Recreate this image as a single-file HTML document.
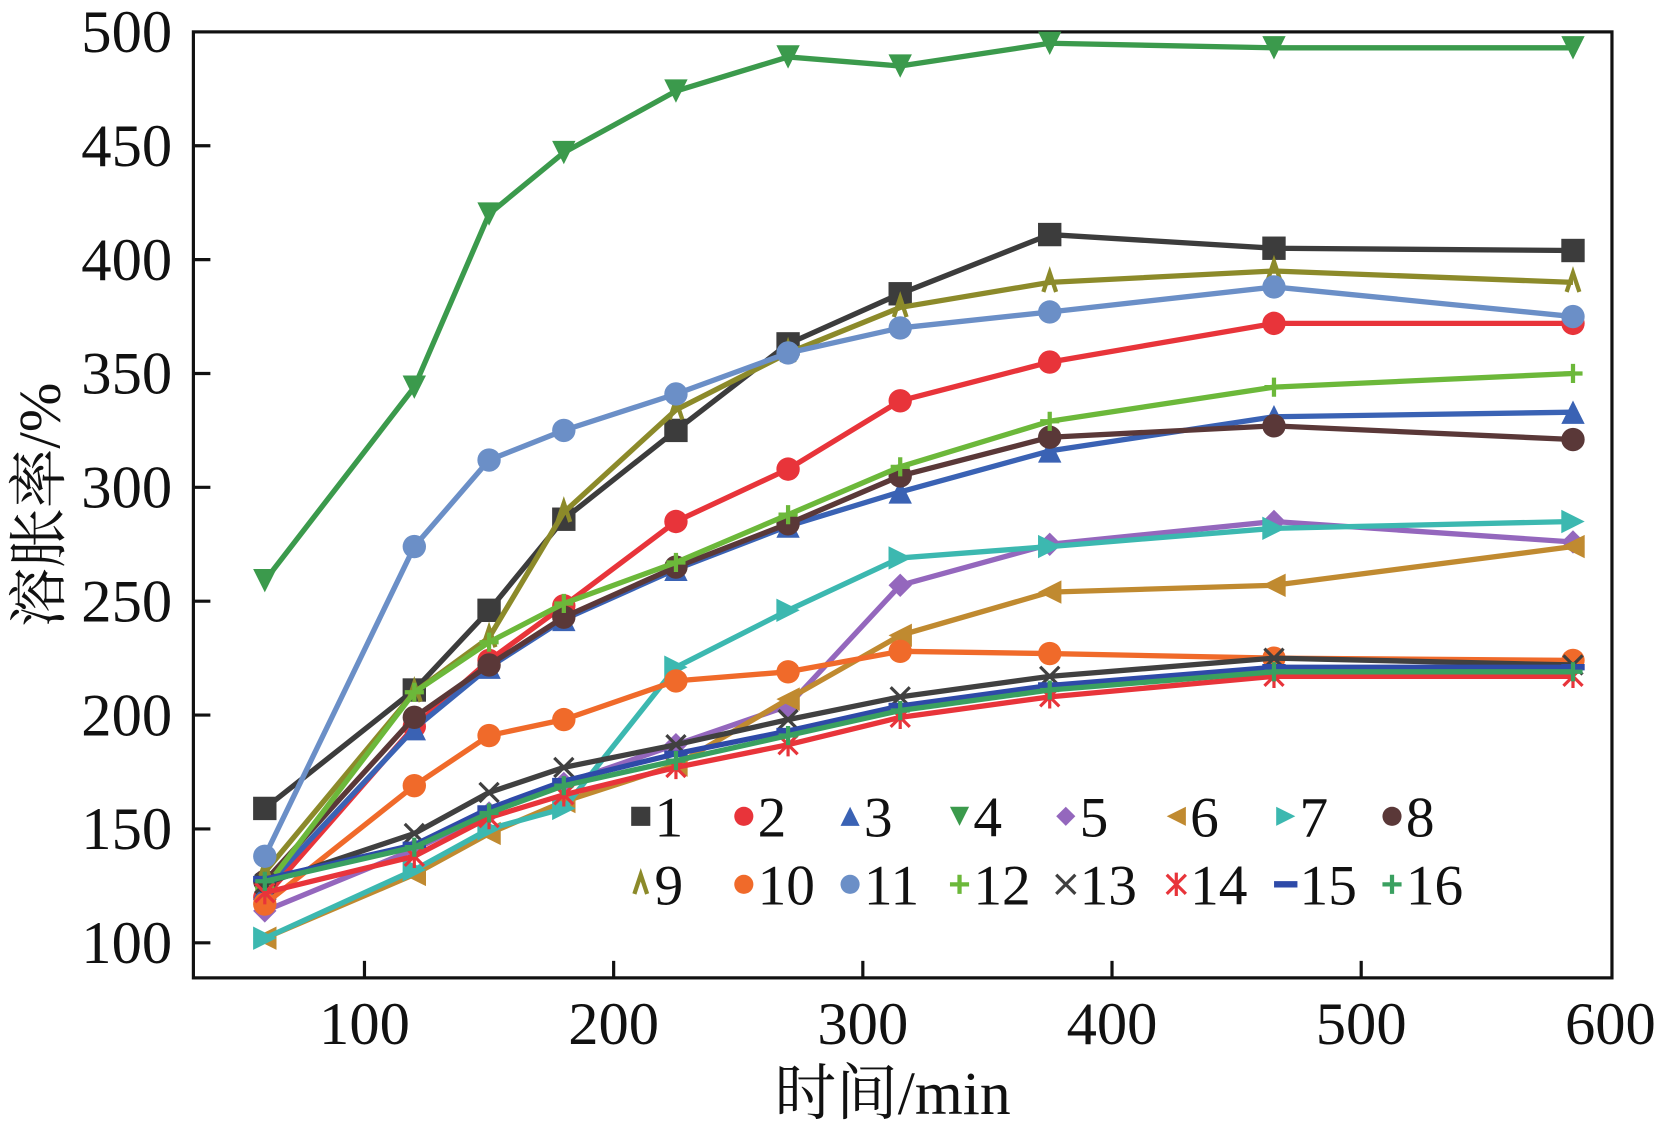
<!DOCTYPE html>
<html><head><meta charset="utf-8"><style>
html,body{margin:0;padding:0;background:#fff;width:1664px;height:1133px;overflow:hidden}
svg{display:block}
</style></head><body>
<svg width="1664" height="1133" xmlns="http://www.w3.org/2000/svg"><g id="chart" transform="scale(1.0626,1.0629)"></g></svg>
<script>
const xValues=[60,120,150,180,225,270,315,375,465,585];
const seriesNames=["1","2","3","4","5","6","7","8","9","10","11","12","13","14","15","16"];
const s1=[159,211,246,286,325,363,385,411,405,404];
const s2=[120,195,224,248,285,308,338,355,372,372];
const s3=[124,194,221,242,264,283,298,316,331,333];
const s4=[259,344,420,447,474,489,485,495,493,493];
const s5=[114,141,157,170,187,204,257,275,285,276];
const s6=[102,130,148,162,178,207,235,254,257,274];
const s7=[102,132,150,159,221,246,269,274,282,285];
const s8=[127,199,222,243,265,284,305,322,327,321];
const s9=[131,210,234,289,334,359,379,390,395,390];
const s10=[117,169,191,198,215,219,228,227,225,224];
const s11=[138,274,312,325,341,359,370,377,388,375];
const s12=[124,210,232,249,267,288,309,329,344,350];
const s13=[126,148,166,177,187,198,208,217,225,222];
const s14=[122,138,155,165,177,187,199,208,217,217];
const s15=[128,143,159,171,183,193,204,213,221,221];
const s16=[127,142,157,169,180,191,202,211,219,219];
const allSeries=[s1,s2,s3,s4,s5,s6,s7,s8,s9,s10,s11,s12,s13,s14,s15,s16];
const xTicks=[100,200,300,400,500,600];
const yTicks=[100,150,200,250,300,350,400,450,500];
const colors=["#3c3c3c","#e8343a","#3a62b4","#3b9a4c","#9467bd","#c08a30","#3cb8b0","#5a3838","#8c8a2a","#f06a2a","#6b8fc7","#6cb83a","#404040","#e8343a","#2e4aa8","#3aa060"];
const markers=["sq","ci","tu","td","di","tl","tr","ci","ca","ci","ci","pl","x","as","da","pl"];

const L=182,R=1517,T=30,B=920;
const X=v=>343+(v-100)*2.345;
const Y=v=>887-(v-100)*2.1425;
const NS="http://www.w3.org/2000/svg";
const svg=document.getElementById('chart');
function mk(tag,attrs,parent){const e=document.createElementNS(NS,tag);for(const k in attrs)e.setAttribute(k,attrs[k]);(parent||svg).appendChild(e);return e;}

function marker(type,x,y,c,g,s){
  s=s||11;let e;
  if(type==="sq")e=mk('rect',{x:x-s,y:y-s,width:2*s,height:2*s,fill:c},g);
  else if(type==="ci")e=mk('circle',{cx:x,cy:y,r:s,fill:c},g);
  else if(type==="tu")e=mk('polygon',{points:`${x},${y-s} ${x-s},${y+s} ${x+s},${y+s}`,fill:c},g);
  else if(type==="td")e=mk('polygon',{points:`${x-s},${y-s} ${x+s},${y-s} ${x},${y+s}`,fill:c},g);
  else if(type==="di")e=mk('polygon',{points:`${x},${y-s} ${x+s},${y} ${x},${y+s} ${x-s},${y}`,fill:c},g);
  else if(type==="tl")e=mk('polygon',{points:`${x-s},${y} ${x+s},${y-s} ${x+s},${y+s}`,fill:c},g);
  else if(type==="tr")e=mk('polygon',{points:`${x+s},${y} ${x-s},${y-s} ${x-s},${y+s}`,fill:c},g);
  else if(type==="ca")e=mk('polyline',{points:`${x-6},${y+9} ${x},${y-9} ${x+6},${y+9}`,fill:"none",stroke:c,"stroke-width":4},g);
  else if(type==="pl")e=mk('path',{d:`M${x-9} ${y}H${x+9}M${x} ${y-9}V${y+9}`,stroke:c,"stroke-width":4},g);
  else if(type==="x")e=mk('path',{d:`M${x-9} ${y-9}L${x+9} ${y+9}M${x+9} ${y-9}L${x-9} ${y+9}`,stroke:c,"stroke-width":3},g);
  else if(type==="as")e=mk('path',{d:`M${x-9} ${y-9}L${x+9} ${y+9}M${x+9} ${y-9}L${x-9} ${y+9}M${x} ${y-11}V${y+11}`,stroke:c,"stroke-width":3},g);
  else if(type==="da")e=mk('path',{d:`M${x-11} ${y}H${x+11}`,stroke:c,"stroke-width":6},g);
  return e;
}

const frame=mk('rect',{x:L,y:T,width:R-L,height:B-T,fill:"none",stroke:"#111","stroke-width":3});



const yAxis=mk('g',{});


yTicks.forEach(v=>{
  const yy=Y(v);
  if(v<500)mk('line',{x1:L,x2:L+16,y1:yy,y2:yy,stroke:"#111","stroke-width":3},yAxis);
  const t=mk('text',{x:162,y:yy+19,"text-anchor":"end","font-family":"Liberation Serif, serif","font-size":57,fill:"#111"},yAxis);
  t.textContent=v;
  
  
});
const xAxis=mk('g',{});


xTicks.forEach(v=>{
  const xx=X(v);
  if(v<600)mk('line',{x1:xx,x2:xx,y1:B,y2:B-16,stroke:"#111","stroke-width":3},xAxis);
  const t=mk('text',{x:xx,y:982,"text-anchor":"middle","font-family":"Liberation Serif, serif","font-size":57,fill:"#111"},xAxis);
  t.textContent=v;
  
  
});
const xt=mk('text',{x:840,y:1048,"text-anchor":"middle","font-family":"Liberation Serif, Noto Serif CJK SC, serif","font-size":58,fill:"#111"});
xt.textContent="时间/min";


const yt=mk('text',{x:0,y:0,transform:"translate(56,475) rotate(-90)","text-anchor":"middle","font-family":"Liberation Serif, Noto Serif CJK SC, serif","font-size":56,fill:"#111"});
yt.textContent="溶胀率/%";



allSeries.forEach((d,i)=>{
  const g=mk('g',{});
  
  
  mk('polyline',{points:d.map((v,j)=>X(xValues[j])+","+Y(v)).join(" "),fill:"none",stroke:colors[i],"stroke-width":5,"stroke-linejoin":"round"},g);
  d.forEach((v,j)=>{
    const m=marker(markers[i],X(xValues[j]),Y(v),colors[i],g,11);
    
    
  });
});

const lg=mk('g',{});


const lx=[603,700,800,903,1003,1107,1210,1310];
seriesNames.forEach((n,i)=>{
  const row=Math.floor(i/8),col=i%8;
  const x=lx[col],y=row?832:768;
  const e=mk('g',{},lg);
  
  
  marker(markers[i],x,y,colors[i],e,9);
  const t=mk('text',{x:x+13,y:y+19,"font-family":"Liberation Serif, serif","font-size":54,fill:"#111"},e);
  t.textContent=n;
});
</script>
</body></html>
